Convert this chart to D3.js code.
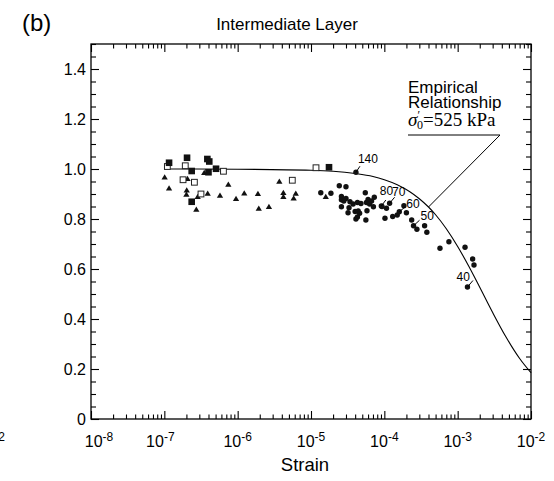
<!DOCTYPE html>
<html><head><meta charset="utf-8">
<script src="https://cdn.jsdelivr.net/npm/d3@7"></script>
<style>
body{margin:0;background:#fff}
svg{display:block}
text{font-family:"Liberation Sans",Arial,Helvetica,sans-serif;fill:#000}
</style>
</head><body>
<svg id="c" width="554" height="481"></svg>
<script>
// ---------- data ----------
const xTickExponents = [-8, -7, -6, -5, -4, -3, -2];
const yTickValues = [0, 0.2, 0.4, 0.6, 0.8, 1.0, 1.2, 1.4];
const yTickLabels = ["0", "0.2", "0.4", "0.6", "0.8", "1.0", "1.2", "1.4"];

// empirical relationship (sigma'0 = 525 kPa)
const curveStrain = [1e-7, 1e-6, 1e-5, 2e-5, 4e-5, 7e-5, 1e-4, 1.5e-4, 2.2e-4, 3e-4, 4e-4, 5e-4, 7e-4, 1e-3, 1.4e-3, 2e-3, 3e-3, 4.5e-3, 7e-3, 1e-2];
const curveValue  = [1.0, 0.999, 0.995, 0.991, 0.982, 0.970, 0.957, 0.937, 0.910, 0.881, 0.848, 0.817, 0.761, 0.690, 0.614, 0.527, 0.426, 0.331, 0.242, 0.185];

const circles = [
 [1.36e-5,0.905],[1.87e-5,0.903],[2.43e-5,0.933],[3.0e-5,0.929],
 [2.6e-5,0.89],[2.6e-5,0.877],[3.0e-5,0.882],[2.8e-5,0.872],
 [3.4e-5,0.869],[3.75e-5,0.86],[2.6e-5,0.849],[3.3e-5,0.845],[3.2e-5,0.825],
 [4.0e-5,0.83],[4.4e-5,0.832],[4.6e-5,0.823],
 [4.1e-5,0.80],[4.3e-5,0.808],[5.6e-5,0.796],[5.5e-5,0.905],
 [4.3e-5,0.866],[4.8e-5,0.862],[5.7e-5,0.866],[6.0e-5,0.878],[6.3e-5,0.86],[6.7e-5,0.872],
 [5.8e-5,0.833],[7.3e-5,0.887],[7.1e-5,0.849],
 [9.3e-5,0.85],[1.07e-4,0.843],[1.02e-4,0.803],
 [1.3e-4,0.81],[1.5e-4,0.816],[1.85e-4,0.853],[2.0e-4,0.825],
 [2.36e-4,0.796],[2.78e-4,0.759],[3.54e-4,0.773],[3.8e-4,0.747],
 [5.74e-4,0.683],[7.6e-4,0.709],[1.26e-3,0.687],[1.6e-3,0.64],[1.67e-3,0.616]
];
// labelled circles (confining pressure labels)
const labelText   = ["140", "80", "70", "60", "50", "40"];
const labelStrain = [4.1e-5, 9.1e-5, 1.18e-4, 1.6e-4, 2.5e-4, 1.36e-3];
const labelValue  = [0.987, 0.852, 0.863, 0.829, 0.773, 0.528];

const filledSquares = [
 [1.16e-7,1.025],[2.04e-7,1.045],[3.86e-7,1.04],[4.1e-7,1.03],[2.36e-7,0.992],
 [4.0e-7,0.987],[5.07e-7,1.001],[2.36e-7,0.869],[1.76e-5,1.007]
];
const openSquares = [
 [1.1e-7,1.01],[1.93e-7,1.013],[6.4e-7,0.991],[1.8e-7,0.957],[2.57e-7,0.947],
 [3.16e-7,0.9],[5.56e-6,0.955],[1.17e-5,1.005]
];
const triangles = [
 [1.01e-7,0.965],[1.16e-7,0.921],[2.02e-7,0.913],[2.0e-7,0.896],[2.07e-7,0.959],
 [2.85e-7,0.887],[3.5e-7,0.983],[2.73e-7,0.836],[3.9e-7,0.9],[5.74e-7,0.892],
 [7.46e-7,0.936],[9.5e-7,0.879],[1.23e-6,0.901],[1.89e-6,0.899],[1.94e-6,0.84],
 [2.67e-6,0.847],[3.7e-6,0.948],[4.2e-6,0.903],[4.2e-6,0.887],[6.2e-6,0.9],
 [5.8e-6,0.881],[1.59e-5,0.887]
];

// ---------- layout ----------
const L = 91, R = 531, T = 44, B = 419;
const svg = d3.select("#c");
const x = d3.scaleLog().domain([1e-8, 1e-2]).range([L, R]);
const y = d3.scaleLinear().domain([0, 1.5]).range([B, T]);

const majorX = xTickExponents.map(e => Math.pow(10, e));
const minorX = [];
for (let e = -8; e < -2; e++) for (let m = 2; m <= 9; m++) minorX.push(m * Math.pow(10, e));
const minorY = d3.range(0, 31).map(i => i * 0.05).filter(v => !yTickValues.some(t => Math.abs(t - v) < 1e-9));

function strip(g) { g.select(".domain").remove(); g.selectAll("line").attr("stroke", "#000").attr("stroke-width", 1.1); }

// bottom
svg.append("g").attr("transform", `translate(0,${B})`)
  .call(d3.axisBottom(x).tickValues(majorX).tickSize(-8).tickFormat("")).call(strip);
svg.append("g").attr("transform", `translate(0,${B})`)
  .call(d3.axisBottom(x).tickValues(minorX).tickSize(-4.5).tickFormat("")).call(strip);
// top
svg.append("g").attr("transform", `translate(0,${T})`)
  .call(d3.axisTop(x).tickValues(majorX).tickSize(-8).tickFormat("")).call(strip);
svg.append("g").attr("transform", `translate(0,${T})`)
  .call(d3.axisTop(x).tickValues(minorX).tickSize(-4.5).tickFormat("")).call(strip);
// left
const gl = svg.append("g").attr("transform", `translate(${L},0)`)
  .call(d3.axisLeft(y).tickValues(yTickValues).tickSize(-8).tickPadding(5)
    .tickFormat((d, i) => yTickLabels[i])).call(strip);
gl.selectAll("text").style("font-size", "16px").style("font-family", '"Liberation Sans",Arial,sans-serif');
svg.append("g").attr("transform", `translate(${L},0)`)
  .call(d3.axisLeft(y).tickValues(minorY).tickSize(-5).tickFormat("")).call(strip);
// right
svg.append("g").attr("transform", `translate(${R},0)`)
  .call(d3.axisRight(y).tickValues(yTickValues).tickSize(-8).tickFormat("")).call(strip);
svg.append("g").attr("transform", `translate(${R},0)`)
  .call(d3.axisRight(y).tickValues(minorY).tickSize(-5).tickFormat("")).call(strip);

// frame
svg.append("rect").attr("x", L).attr("y", T).attr("width", R - L).attr("height", B - T)
  .attr("fill", "none").attr("stroke", "#000").attr("stroke-width", 1.3);

// x tick labels 10^e
const xl = svg.append("g");
xTickExponents.forEach((e, i) => {
  const dx = i === 0 ? 8 : (i === 1 ? -4 : 0);
  const t = xl.append("text").attr("x", x(Math.pow(10, e)) + dx).attr("y", 447)
    .attr("text-anchor", "middle").style("font-size", "16px");
  t.append("tspan").text("10");
  t.append("tspan").attr("dy", -6).style("font-size", "12px").text(String(e));
});
// clipped neighbour-panel label fragment at far left
const frag = svg.append("text").attr("x", 5).attr("y", 447).attr("text-anchor", "end").style("font-size", "16px");
frag.append("tspan").text("10");
frag.append("tspan").attr("dy", -6).style("font-size", "12px").text("-2");

// titles
svg.append("text").attr("x", 22).attr("y", 31).style("font-size", "24px").text("(b)");
svg.append("text").attr("x", 287).attr("y", 30).attr("text-anchor", "middle").style("font-size", "17px").text("Intermediate Layer");
svg.append("text").attr("x", 305).attr("y", 471).attr("text-anchor", "middle").style("font-size", "18.5px").text("Strain");

// curve
const curveData = curveStrain.map((s, i) => [s, curveValue[i]]);
svg.append("path").datum(curveData)
  .attr("d", d3.line().x(d => x(d[0])).y(d => y(d[1])).curve(d3.curveMonotoneX))
  .attr("fill", "none").attr("stroke", "#000").attr("stroke-width", 1.1);

// markers
svg.append("g").selectAll("path").data(triangles).join("path")
  .attr("transform", d => `translate(${x(d[0])},${y(d[1])})`)
  .attr("d", d3.symbol(d3.symbolTriangle, 17)).attr("fill", "#111");
svg.append("g").selectAll("rect").data(openSquares).join("rect")
  .attr("x", d => x(d[0]) - 2.9).attr("y", d => y(d[1]) - 2.9).attr("width", 5.8).attr("height", 5.8)
  .attr("fill", "#fff").attr("stroke", "#222").attr("stroke-width", 1);
svg.append("g").selectAll("rect").data(filledSquares).join("rect")
  .attr("x", d => x(d[0]) - 3.3).attr("y", d => y(d[1]) - 3.3).attr("width", 6.6).attr("height", 6.6)
  .attr("fill", "#111");
svg.append("g").selectAll("circle").data(circles).join("circle")
  .attr("cx", d => x(d[0])).attr("cy", d => y(d[1])).attr("r", 2.7).attr("fill", "#111");

// labelled points with leaders
const leadDx = [4, 4.5, 5, 6, 6, 5.5];
const leadDy = [-6, -6, -6, -5, -5.5, -6.5];
const txtDx  = [2, -1.5, 2.5, 7, 7, -11];
const txtDy  = [-9, -11, -7, -4, -6, -6];
labelText.forEach((lab, i) => {
  const px = x(labelStrain[i]), py = y(labelValue[i]);
  svg.append("circle").attr("cx", px).attr("cy", py).attr("r", 2.7).attr("fill", "#111");
  svg.append("line").attr("x1", px).attr("y1", py).attr("x2", px + leadDx[i]).attr("y2", py + leadDy[i])
    .attr("stroke", "#000").attr("stroke-width", 1);
  svg.append("text").attr("x", px + txtDx[i]).attr("y", py + txtDy[i]).style("font-size", "12px").text(lab);
});

// empirical relationship annotation
const anchorStrain = 4e-4;
const ai = d3.bisectLeft(curveStrain, anchorStrain);
const anchorValue = curveValue[Math.min(ai, curveValue.length - 1)];
const ax = x(anchorStrain), ay = y(anchorValue);
svg.append("polyline")
  .attr("points", `${ax},${ay} 500,135 408,135`)
  .attr("fill", "none").attr("stroke", "#000").attr("stroke-width", 1);
svg.append("text").attr("x", 408).attr("y", 93).style("font-size", "17px").text("Empirical");
svg.append("text").attr("x", 408).attr("y", 108).style("font-size", "17px").text("Relationship");
const sg = svg.append("text").attr("x", 408).attr("y", 126)
  .style("font-family", '"Liberation Serif","Times New Roman",serif').style("font-size", "19px");
sg.append("tspan").style("font-style", "italic").text("σ");
sg.append("tspan").attr("dy", -7).style("font-size", "12px").text("′");
sg.append("tspan").attr("dx", -3).attr("dy", 10).style("font-size", "12px").text("0");
sg.append("tspan").attr("dy", -3).text("=525 kPa");
</script>
</body></html>
